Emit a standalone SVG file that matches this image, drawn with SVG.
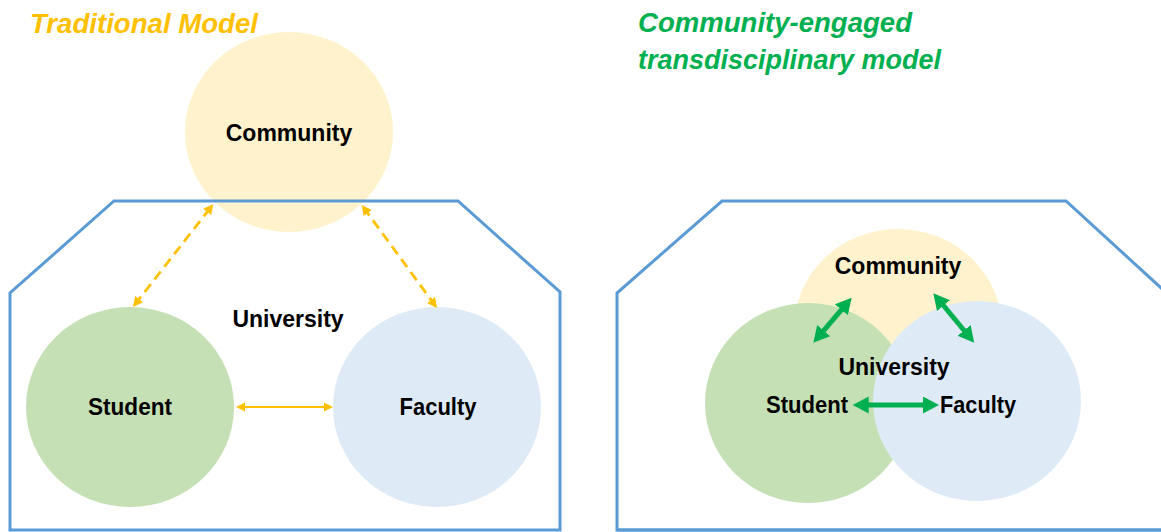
<svg xmlns="http://www.w3.org/2000/svg" width="1161" height="532" viewBox="0 0 1161 532">
  <style>
    .lbl { font-family: "Liberation Sans", Arial, sans-serif; font-weight: bold; font-size: 23px; fill: #000; text-anchor: middle; }
    .title { font-family: "Liberation Sans", Arial, sans-serif; font-weight: bold; font-style: italic; font-size: 27.5px; }
    .frame { fill: none; stroke: #5B9BD5; stroke-width: 3; stroke-linejoin: miter; }
    .comm { fill: #FFF2CC; }
    .stud { fill: #C5E0B4; }
    .fac { fill: #DEEBF7; }
    .ydash { stroke: #FFC000; stroke-width: 2.75; stroke-dasharray: 10 6; fill: none; }
    .ysolid { stroke: #FFC000; stroke-width: 2; fill: none; }
    .garrow { stroke: #00B050; stroke-width: 5; fill: none; }
  </style>
  <defs>
    <marker id="yHead" markerUnits="userSpaceOnUse" markerWidth="12" markerHeight="12" refX="7" refY="5" orient="auto-start-reverse" viewBox="0 0 12 12">
      <path d="M0,0 L10,5 L0,10 z" fill="#FFC000"/>
    </marker>
    <marker id="ySmall" markerUnits="userSpaceOnUse" markerWidth="10" markerHeight="10" refX="5" refY="4.5" orient="auto-start-reverse" viewBox="0 0 10 10">
      <path d="M0,0 L9,4.5 L0,9 z" fill="#FFC000"/>
    </marker>
    <marker id="gHead" markerUnits="userSpaceOnUse" markerWidth="18" markerHeight="18" refX="4" refY="8.5" orient="auto-start-reverse" viewBox="0 0 18 18">
      <path d="M0,0 L16,8.5 L0,17 z" fill="#00B050"/>
    </marker>
  </defs>

  <g id="title-traditional">
    <text class="title" x="30" y="33" fill="#FFC000" textLength="228" lengthAdjust="spacingAndGlyphs">Traditional Model</text>
  </g>
  <g id="title-community-engaged">
    <text class="title" x="638" y="32" fill="#00B050" textLength="274" lengthAdjust="spacingAndGlyphs">Community-engaged</text>
    <text class="title" x="638" y="69" fill="#00B050" textLength="303" lengthAdjust="spacingAndGlyphs">transdisciplinary model</text>
  </g>

  <!-- Left: traditional model -->
  <g id="left-community">
    <ellipse class="comm" cx="289" cy="132" rx="104" ry="100"/>
    <text class="lbl" x="289" y="141">Community</text>
  </g>
  <g id="left-student">
    <ellipse class="stud" cx="130" cy="407" rx="104" ry="100"/>
    <text class="lbl" x="130" y="415" textLength="84" lengthAdjust="spacingAndGlyphs">Student</text>
  </g>
  <g id="left-faculty">
    <ellipse class="fac" cx="437" cy="407" rx="104" ry="100"/>
    <text class="lbl" x="438" y="415" textLength="77" lengthAdjust="spacingAndGlyphs">Faculty</text>
  </g>
  <g id="left-university">
    <polygon class="frame" points="10,530 10,293 114,201 458,201 560,292 560,530"/>
    <text class="lbl" x="288" y="327">University</text>
  </g>

  <!-- Right: community-engaged model -->
  <g id="right-community">
    <ellipse class="comm" cx="898" cy="329" rx="104" ry="100"/>
    <text class="lbl" x="898" y="274">Community</text>
  </g>
  <g id="right-student">
    <ellipse class="stud" cx="808" cy="403" rx="103" ry="100"/>
    <text class="lbl" x="807" y="413" textLength="82" lengthAdjust="spacingAndGlyphs">Student</text>
  </g>
  <g id="right-faculty">
    <ellipse class="fac" cx="977" cy="401" rx="104" ry="100"/>
    <text class="lbl" x="978" y="413" textLength="76" lengthAdjust="spacingAndGlyphs">Faculty</text>
  </g>
  <g id="right-university">
    <polygon class="frame" points="617,530 617,293 722,201 1066,201 1171,297 1171,530"/>
    <line x1="617" y1="530" x2="1161" y2="530" stroke="#5B9BD5" stroke-width="3"/>
    <text class="lbl" x="894" y="375">University</text>
  </g>

  <g id="connectors">
    <line class="ydash" x1="134.8" y1="304.6" x2="211.5" y2="206.4" marker-start="url(#yHead)" marker-end="url(#yHead)"/>
    <line class="ydash" x1="363.5" y1="207.4" x2="435.2" y2="305.6" marker-start="url(#yHead)" marker-end="url(#yHead)"/>
    <line class="ysolid" x1="240" y1="407" x2="329" y2="407" marker-start="url(#ySmall)" marker-end="url(#ySmall)"/>
    <line class="garrow" x1="821.1" y1="333.6" x2="843.9" y2="306.8" marker-start="url(#gHead)" marker-end="url(#gHead)"/>
    <line class="garrow" x1="941" y1="302.5" x2="966.6" y2="333.5" marker-start="url(#gHead)" marker-end="url(#gHead)"/>
    <line class="garrow" x1="864.7" y1="405" x2="927" y2="405" marker-start="url(#gHead)" marker-end="url(#gHead)"/>
  </g>
</svg>
